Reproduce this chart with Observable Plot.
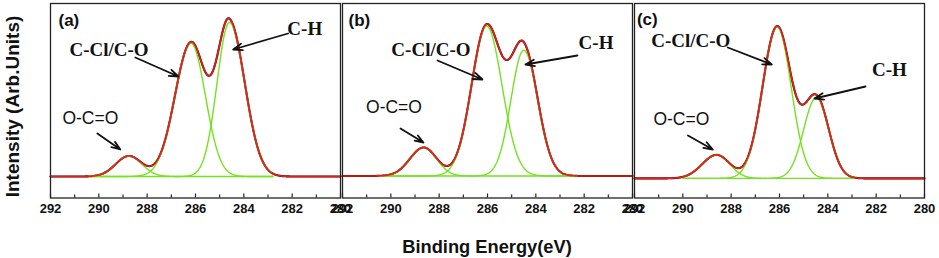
<!DOCTYPE html>
<html><head><meta charset="utf-8">
<script src="https://cdn.jsdelivr.net/npm/d3@7"></script>
<script src="https://cdn.jsdelivr.net/npm/@observablehq/plot@0.6"></script>
<style>
html,body{margin:0;padding:0;background:#fff;}
#chart{width:939px;height:258px;}
</style></head><body><div id="chart"></div>
<script>
// ---- data ----
const panels = ["(a)", "(b)", "(c)"];
const species = ["O-C=O", "C-Cl/C-O", "C-H"];
// fitted component parameters (binding energy eV, height arb. units, half-widths eV on high/low BE side)
const centersA = [288.76, 286.19, 284.60];
const heightsA = [20.5, 133.4, 154];
const widthHiA = [0.54, 0.66, 0.51];
const widthLoA = [0.54, 0.60, 0.64];
const centersB = [288.64, 286.04, 284.50];
const heightsB = [28.5, 150, 125.7];
const widthHiB = [0.57, 0.62, 0.53];
const widthLoB = [0.53, 0.64, 0.58];
const centersC = [288.60, 286.10, 284.48];
const heightsC = [23.5, 151.7, 80.7];
const widthHiC = [0.60, 0.60, 0.52];
const widthLoC = [0.54, 0.58, 0.52];
const background = [0, 0.5, -1.9];
const fitLo = [282.8, 282.3, 282.9];
const fitHi = [290.45, 290.5, 290.0];
const xTicks = [292, 290, 288, 286, 284, 282, 280];
const xMinor = [291, 289, 287, 285, 283, 281];
// annotations (label anchor points and arrows, in data units)
const panelLabelX = [291.67, 291.75, 291.90];
const panelLabelY = [156, 156, 157];
const cclX = [289.58, 288.34, 289.67], cclY = [126.5, 127, 136];
const chX = [281.48, 281.51, 281.45], chY = [148, 134, 107];
const occX = [290.35, 289.87, 290.06], occY = [58, 69, 57];
const arrowCCl = [[288.49,119,286.71,100],[288.07,116,286.21,97],[288.14,129,286.32,112]];
const arrowCH  = [[282.17,143,284.44,127],[282.28,121,284.43,112],[282.44,90,284.55,78]];
const arrowOCC = [[290.06,43,289.11,27],[289.60,48,288.65,34],[289.79,41,288.76,27]];

// ---- build tables ----
const params = [
  {c: centersA, h: heightsA, hi: widthHiA, lo: widthLoA},
  {c: centersB, h: heightsB, hi: widthHiB, lo: widthLoB},
  {c: centersC, h: heightsC, hi: widthHiC, lo: widthLoC}
];
function peak(e, c, h, shi, slo) {
  const s = e >= c ? shi : slo;
  return h * Math.exp(-((e - c) ** 2) / (2 * s * s));
}
const grid = d3.range(0, 601).map(i => +(292 - i * 0.02).toFixed(3));
const envelope = [], components = [];
panels.forEach((p, pi) => {
  const P = params[pi];
  grid.forEach(e => {
    let v = background[pi];
    for (let k = 0; k < 3; k++) v += peak(e, P.c[k], P.h[k], P.hi[k], P.lo[k]);
    envelope.push({panel: p, e, v});
  });
  for (let k = 0; k < 3; k++) {
    grid.filter(e => e >= fitLo[pi] && e <= fitHi[pi]).forEach(e => {
      components.push({panel: p, comp: p + species[k], e,
        v: background[pi] + peak(e, P.c[k], P.h[k], P.hi[k], P.lo[k])});
    });
  }
});
const panelLabels = panels.map((p, i) => ({panel: p, text: p, x: panelLabelX[i], y: panelLabelY[i]}));
const serifLabels = panels.flatMap((p, i) => [
  {panel: p, text: "C-Cl/C-O", x: cclX[i], y: cclY[i]},
  {panel: p, text: "C-H", x: chX[i], y: chY[i]}
]);
const sansLabels = panels.map((p, i) => ({panel: p, text: "O-C=O", x: occX[i], y: occY[i]}));
const arrows = panels.flatMap((p, i) => [arrowCCl[i], arrowCH[i], arrowOCC[i]].map(a => ({panel: p, x1: a[0], y1: a[1], x2: a[2], y2: a[3]})));
const majorT = xTicks.map(v => ({v}));
const minorT = xMinor.map(v => ({v}));

const yMin = -21.5, yMax = 173;
const chart = Plot.plot({
  width: 939, height: 258,
  marginTop: 3, marginBottom: 60.5, marginLeft: 50, marginRight: 14,
  style: {fontFamily: "'Liberation Sans', Arial, sans-serif", fontSize: "13px", fontWeight: "bold", color: "#111", background: "#fff"},
  fx: {domain: panels, paddingInner: 0.006, paddingOuter: 0, axis: null, label: null},
  x: {domain: [292, 280], label: null},
  y: {domain: [yMin, yMax], axis: null},
  marks: [
    Plot.ruleX(majorT, {x: "v", y1: yMin, y2: yMin + 4, stroke: "#222", strokeWidth: 1.2}),
    Plot.ruleX(minorT, {x: "v", y1: yMin, y2: yMin + 3, stroke: "#222", strokeWidth: 1.2}),
    Plot.line(envelope, {x: "e", y: "v", fx: "panel", z: "panel", stroke: "#151515", strokeWidth: 2.1}),
    Plot.line(components, {x: "e", y: "v", fx: "panel", z: "comp", stroke: "#74e21e", strokeWidth: 1.4}),
    Plot.line(envelope, {x: "e", y: "v", fx: "panel", z: "panel", stroke: "#f21a14", strokeWidth: 1.6}),
    Plot.frame({stroke: "#222", strokeWidth: 1.3}),
    Plot.axisX({ticks: xTicks, tickSize: 0, tickPadding: 6, tickFormat: d => String(d), fontSize: 13, fontWeight: "bold", label: null}),
    Plot.text(panelLabels, {x: "x", y: "y", fx: "panel", text: "text", textAnchor: "start", fontSize: 17, fontWeight: "bold", fill: "#111"}),
    Plot.text(serifLabels, {x: "x", y: "y", fx: "panel", text: "text", fontFamily: "'Liberation Serif', 'Times New Roman', serif", fontSize: 19, fontWeight: "bold", fill: "#111"}),
    Plot.text(sansLabels, {x: "x", y: "y", fx: "panel", text: "text", fontSize: 17.5, fontWeight: "normal", fill: "#111"}),
    Plot.arrow(arrows, {x1: "x1", y1: "y1", x2: "x2", y2: "y2", fx: "panel", stroke: "#111", strokeWidth: 1.8, headLength: 8, headAngle: 40})
  ]
});
const svg = d3.select(chart);
svg.append("text").attr("transform", "translate(18.5,106.5) rotate(-90)")
  .attr("text-anchor", "middle").attr("font-size", 19).attr("font-weight", "bold")
  .attr("fill", "#111").text("Intensity (Arb.Units)");
svg.append("text").attr("x", 487).attr("y", 253)
  .attr("text-anchor", "middle").attr("font-size", 18.3).attr("font-weight", "bold")
  .attr("fill", "#111").text("Binding Energy(eV)");
document.getElementById("chart").appendChild(chart);
</script></body></html>
